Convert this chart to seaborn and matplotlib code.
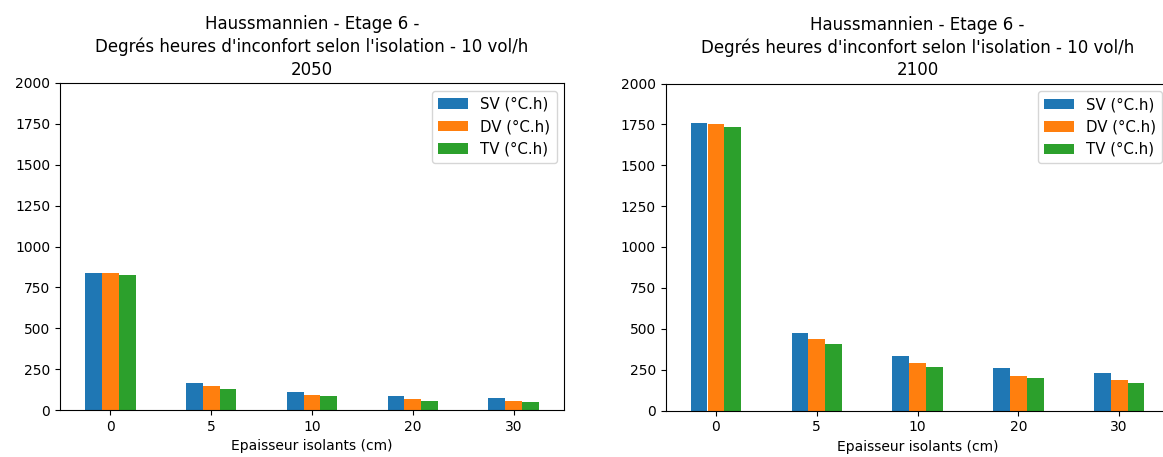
import matplotlib
matplotlib.use("Agg")
import matplotlib.pyplot as plt
import seaborn as sns
import pandas as pd

categories = ["0", "5", "10", "20", "30"]
series_names = ["SV (°C.h)", "DV (°C.h)", "TV (°C.h)"]

sv_2050 = [838, 167, 112, 84, 75]
dv_2050 = [836, 149, 94, 65, 57]
tv_2050 = [826, 130, 84, 57, 47]

sv_2100 = [1760, 473, 335, 261, 231]
dv_2100 = [1752, 436, 288, 214, 186]
tv_2100 = [1736, 408, 269, 196, 169]

years = ["2050", "2100"]
title_base = "Haussmannien - Etage 6 -\nDegrés heures d'inconfort selon l'isolation - 10 vol/h\n"
xlabel = "Epaisseur isolants (cm)"
yticks = [0, 250, 500, 750, 1000, 1250, 1500, 1750, 2000]
colors = ["#1f77b4", "#ff7f0e", "#2ca02c"]


def long_df(sv, dv, tv):
    rows = []
    for name, vals in zip(series_names, [sv, dv, tv]):
        for c, v in zip(categories, vals):
            rows.append({"cat": c, "serie": name, "val": v})
    return pd.DataFrame(rows)


data = [long_df(sv_2050, dv_2050, tv_2050), long_df(sv_2100, dv_2100, tv_2100)]

fig = plt.figure(figsize=(11.63, 4.57), dpi=100)
W, H = 1163, 457
positions = [
    [60 / W, (H - 410) / H, 504 / W, 327 / H],
    [665.5 / W, (H - 410.5) / H, 504 / W, 327 / H],
]

for pos, df, year in zip(positions, data, years):
    ax = fig.add_axes(pos)
    sns.barplot(data=df, x="cat", y="val", hue="serie", order=categories,
                hue_order=series_names, palette=colors, saturation=1,
                width=0.5, linewidth=0, ax=ax, errorbar=None)
    ax.set_xlim(-0.5, 4.5)
    ax.set_ylim(0, 2000)
    ax.set_yticks(yticks)
    ax.set_ylabel("")
    ax.set_xlabel(xlabel)
    ax.set_title(title_base + year, fontsize=12, linespacing=1.32)
    ax.legend(loc="upper right", title=None, fontsize=10.8)

fig.savefig("out.png", dpi=100)
